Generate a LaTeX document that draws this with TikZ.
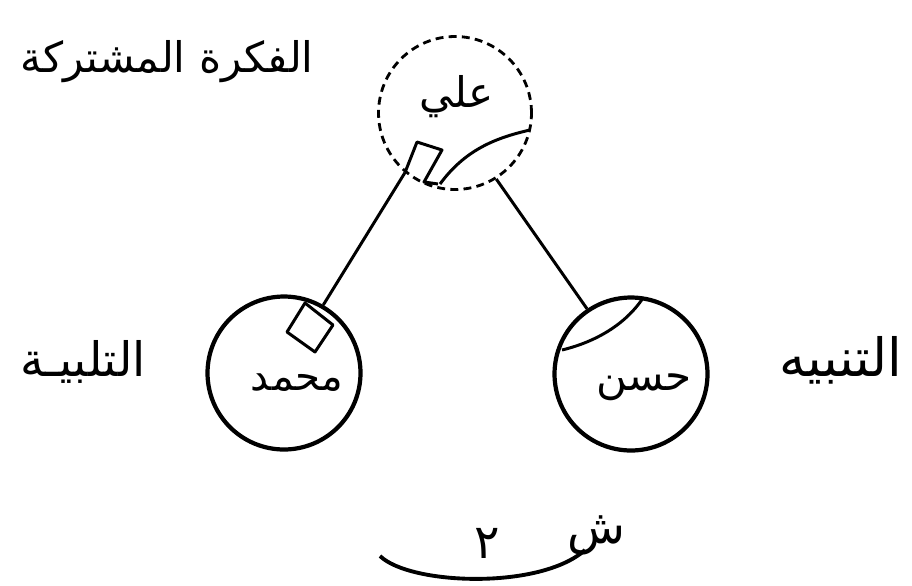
\documentclass[tikz,border=0pt]{standalone}
\usepackage{fontspec}
\newfontfamily\arabicfont[Script=Arabic]{DejaVu Sans}
\TeXXeTstate=1
\usetikzlibrary{positioning}

\begin{document}
\begin{tikzpicture}[x=0.02cm,y=-0.02cm,line join=round,
  person/.style={circle,draw,line width=2.4pt,minimum size=3.06cm,inner sep=0pt},
  link/.style={line width=1.7pt},
  who/.style={font=\arabicfont\fontsize{24}{28}\selectfont,inner sep=0pt},
  lbl/.style={font=\arabicfont\fontsize{27}{30}\selectfont,inner sep=0pt}]
\useasboundingbox (0,0) rectangle (912,585);
\node[person,line width=1.6pt,dash pattern=on 4.5pt off 3pt] (ali) at (455,113) {};
\foreach \n/\x/\y in {muhammad/284/373,hasan/631/374}
  \node[person] (\n) at (\x,\y) {};
\node[who] (aliname) at (457,97) {\beginR علي\endR};
\node[who,font=\arabicfont\fontsize{23}{28}\selectfont] (muhammadname) at (297,383) {\beginR محمد\endR};
\node[who] (hasanname) at (644,387) {\beginR حسن\endR};
\node[lbl,font=\arabicfont\fontsize{24}{28}\selectfont] (shared) at (167,62) {\beginR الفكرة المشتركة\endR};
\node[lbl] (response) at (83,362) {\beginR التلبيـة\endR};
\node[lbl,font=\arabicfont\fontsize{30}{34}\selectfont] (alert) at (841,360) {\beginR التنبيه\endR};
\node[lbl] (shin) at (596,535) {\beginR ش\endR};
\node[lbl] (two) at (487,543) {\beginR ٢\endR};
\draw[link] (ali.230) -- (muhammad.60);
\draw[link] (ali.302) -- (hasan.124);
\draw[link] (ali.230) -- (417,142) -- (442,150) -- (424,182) -- (438,184);
\draw[link] (305,303) -- (333,325) -- (315,352) -- (287,332) -- cycle;
\draw[link] (440,184) .. controls (465,150) and (495,138) .. (530,130);
\draw[link] (562,350) .. controls (595,342) and (625,325) .. (643,298);
\draw[line width=2.2pt] (380,556) .. controls (410,585) and (540,590) .. (585,550);
\end{tikzpicture}
\end{document}
